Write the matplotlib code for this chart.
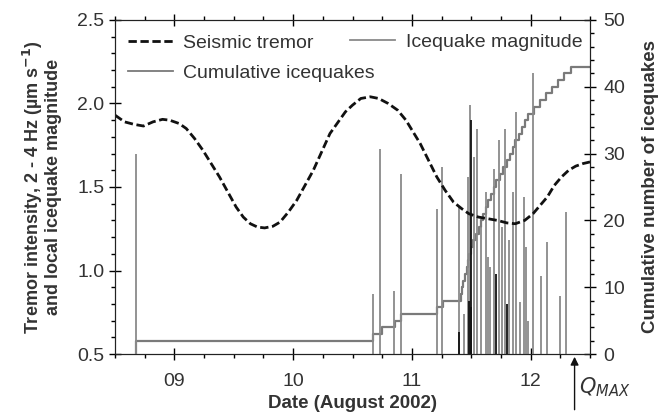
import numpy as np
import matplotlib
matplotlib.use("Agg")
import matplotlib.pyplot as plt
from matplotlib.ticker import MultipleLocator, FormatStrFormatter
from matplotlib.lines import Line2D

plt.rcParams['font.family'] = ['Liberation Sans', 'DejaVu Sans']

# Seismic tremor (left axis)
tremor_date = [8.50, 8.58, 8.66, 8.74, 8.82, 8.90, 8.96, 9.04, 9.10, 9.17, 9.24, 9.31,
               9.38, 9.45, 9.52, 9.58, 9.64, 9.70, 9.76, 9.83, 9.89, 9.96, 10.03, 10.10,
               10.17, 10.24, 10.31, 10.38, 10.44, 10.50, 10.57, 10.65, 10.72, 10.80, 10.88,
               10.95, 11.01, 11.07, 11.14, 11.21, 11.28, 11.35, 11.42, 11.48, 11.56, 11.64,
               11.72, 11.80, 11.87, 11.95, 12.02, 12.08, 12.14, 12.20, 12.26, 12.32, 12.38,
               12.44, 12.50]
tremor_val = [1.93, 1.89, 1.875, 1.865, 1.89, 1.905, 1.90, 1.88, 1.85, 1.79, 1.72, 1.64,
              1.56, 1.47, 1.38, 1.32, 1.28, 1.26, 1.255, 1.265, 1.29, 1.35, 1.42, 1.51,
              1.60, 1.71, 1.82, 1.89, 1.95, 1.99, 2.03, 2.04, 2.03, 2.00, 1.96,
              1.90, 1.83, 1.76, 1.66, 1.56, 1.48, 1.41, 1.37, 1.34, 1.32, 1.31,
              1.30, 1.285, 1.28, 1.30, 1.34, 1.39, 1.44, 1.51, 1.56, 1.60, 1.625,
              1.64, 1.65]

# Icequake magnitudes (left axis)
quake_date = [8.68, 10.675, 10.73, 10.85, 10.91, 11.21, 11.25, 11.40, 11.44, 11.47, 11.49,
              11.52, 11.55, 11.58, 11.62, 11.64, 11.66, 11.69, 11.73, 11.76, 11.78, 11.82,
              11.85, 11.88, 11.91, 11.94, 11.96, 11.98, 12.02, 12.09, 12.14, 12.25, 12.30]
quake_mag = [1.70, 0.86, 1.73, 0.88, 1.58, 1.37, 1.62, 1.38, 0.74, 1.56, 1.99,
             1.68, 1.85, 1.26, 1.47, 1.08, 1.02, 1.61, 1.78, 1.26, 1.85, 1.18,
             1.47, 1.95, 0.81, 1.44, 1.14, 0.70, 2.18, 0.97, 1.17, 0.85, 1.35]
dark_date = [11.40, 11.48, 11.495, 11.50, 11.71, 11.80]
dark_mag = [0.63, 0.82, 0.78, 1.90, 0.98, 0.80]

# Cumulative icequakes (right axis)
cum_date = [8.68, 10.675, 10.745, 10.855, 10.91, 11.21, 11.265, 11.41, 11.42, 11.43, 11.45,
            11.46, 11.47, 11.485, 11.50, 11.515, 11.54, 11.565, 11.58, 11.60, 11.62, 11.645,
            11.67, 11.69, 11.71, 11.74, 11.77, 11.80, 11.83, 11.85, 11.87, 11.90, 11.925,
            11.95, 11.98, 12.03, 12.08, 12.13, 12.18, 12.23, 12.28, 12.34, 12.50]
cum_count = [2, 3, 4, 5, 6, 7, 8, 9, 10, 11, 12,
             13, 14, 15, 16, 17, 18, 19, 20, 21, 22, 23,
             24, 25, 26, 27, 28, 29, 30, 31, 32, 33, 34,
             35, 36, 37, 38, 39, 40, 41, 42, 43, 43]

q_max_date = 12.37

fig = plt.figure(figsize=(6.66, 4.16), dpi=100)
ax = fig.add_axes([0.1727, 0.149, 0.7132, 0.803])
ax2 = ax.twinx()

gray = '#8a8a8a'
ax.vlines(quake_date, 0.5, quake_mag, color=gray, lw=1.3)
ax.vlines(dark_date, 0.5, dark_mag, color='#111111', lw=1.3)
tr, = ax.plot(tremor_date, tremor_val, color='#111111', lw=2.0, dashes=(3.0, 1.3))
ax.set_zorder(ax2.get_zorder() + 1)
ax.patch.set_visible(False)

ax2.step([cum_date[0]] + cum_date, [0] + cum_count, where='post', color='#7a7a7a', lw=1.6)

ax.set_xlim(8.5, 12.5)
ax.set_ylim(0.5, 2.5)
ax2.set_ylim(0, 50)

ax.xaxis.set_major_locator(MultipleLocator(1))
ax.xaxis.set_minor_locator(MultipleLocator(0.25))
ax.xaxis.set_major_formatter(FormatStrFormatter('%02d'))
ax.yaxis.set_major_locator(MultipleLocator(0.5))
ax.yaxis.set_minor_locator(MultipleLocator(0.1))
ax.yaxis.set_major_formatter(FormatStrFormatter('%.1f'))
ax2.yaxis.set_major_locator(MultipleLocator(10))
ax2.yaxis.set_minor_locator(MultipleLocator(2))

txt = '#333333'
for a in (ax, ax2):
    a.tick_params(which='major', direction='inout', length=9, width=1.0, labelsize=14,
                  labelcolor=txt, pad=3)
    a.tick_params(which='minor', direction='out', length=3, width=1.0)
    for s in a.spines.values():
        s.set_color('#222222')
ax.tick_params(which='both', top=True, right=False)
ax.tick_params(axis='x', which='major', pad=9)
ax2.tick_params(axis='y', which='major', pad=5)

ax.set_xlabel('Date (August 2002)', fontsize=13.5, fontweight='bold', color=txt, labelpad=4)
ax.set_ylabel('Tremor intensity, 2 - 4 Hz (µm s$^{\\mathbf{-1}}$)\nand local icequake magnitude',
              fontsize=13, fontweight='bold', color=txt, linespacing=1.0, labelpad=11)
ax2.set_ylabel('Cumulative number of icequakes', fontsize=13.5, fontweight='bold', color=txt,
               labelpad=12)

h_mag = Line2D([], [], color=gray, lw=1.3)
h_cum = Line2D([], [], color='#7a7a7a', lw=1.3)
leg_opts = dict(loc='center left', frameon=False, fontsize=14, borderpad=0, borderaxespad=0,
                handlelength=2.3, handletextpad=0.55, labelspacing=0.62, labelcolor=txt)
leg1 = ax.legend([tr, h_cum], ['Seismic tremor', 'Cumulative icequakes'],
                 bbox_to_anchor=(0.027, 0.886), **leg_opts)
ax.add_artist(leg1)
ax.legend([h_mag], ['Icequake magnitude'], bbox_to_anchor=(0.495, 0.934), **leg_opts)

ax.annotate('', xy=(q_max_date, 0.0), xycoords=('data', 'axes fraction'),
            xytext=(q_max_date, -0.175), textcoords=('data', 'axes fraction'),
            arrowprops=dict(arrowstyle='-|>', color='#111111', lw=1.0, mutation_scale=12),
            annotation_clip=False)
ax.text(q_max_date + 0.04, -0.1, '$Q_{MAX}$', transform=ax.get_xaxis_transform(),
        fontsize=15, color=txt, ha='left', va='center')

fig.savefig('out.png', dpi=100)
